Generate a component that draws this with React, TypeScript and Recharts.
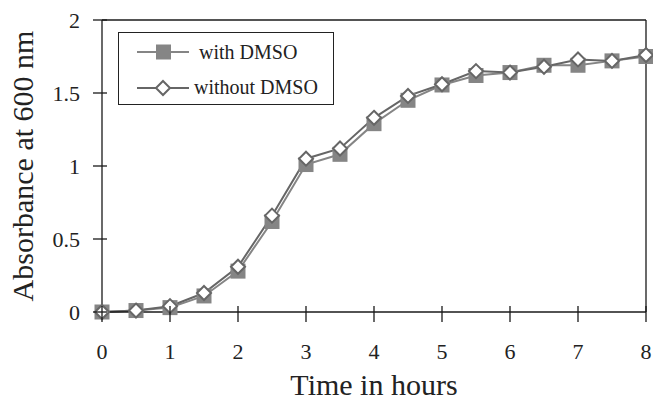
import React from 'react';
import { LineChart, Line, XAxis, YAxis, ReferenceLine, Legend } from 'recharts';

const hours = [0, 0.5, 1, 1.5, 2, 2.5, 3, 3.5, 4, 4.5, 5, 5.5, 6, 6.5, 7, 7.5, 8];
const withDMSO = [0, 0.01, 0.03, 0.11, 0.28, 0.62, 1.01, 1.08, 1.29, 1.45, 1.555, 1.62, 1.64, 1.69, 1.69, 1.72, 1.75];
const withoutDMSO = [0, 0.01, 0.04, 0.13, 0.31, 0.66, 1.05, 1.12, 1.33, 1.48, 1.56, 1.65, 1.64, 1.68, 1.73, 1.72, 1.76];
const xTicks = [0, 1, 2, 3, 4, 5, 6, 7, 8];
const yTicks = [0, 0.5, 1, 1.5, 2];
const seriesNames = ['with DMSO', 'without DMSO'];

const data = hours.map((h, i) => ({ t: h, a: withDMSO[i], b: withoutDMSO[i] }));

const FONT = '"Liberation Serif", "Times New Roman", serif';
const SQ_COLOR = '#858585';
const DI_COLOR = '#666666';
const AXIS = '#1a1a1a';
const TXT = '#222';

const SquareDot = (props: any) => {
  const { cx, cy, index } = props;
  if (cx == null || cy == null) return null;
  return <rect key={'s' + index} x={cx - 7.5} y={cy - 7.5} width={15} height={15} fill={SQ_COLOR} />;
};

const DiamondDot = (props: any) => {
  const { cx, cy, index } = props;
  if (cx == null || cy == null) return null;
  const r = 7;
  return (
    <path
      key={'d' + index}
      d={`M${cx},${cy - r}L${cx + r},${cy}L${cx},${cy + r}L${cx - r},${cy}Z`}
      fill="#fff"
      stroke={DI_COLOR}
      strokeWidth={2}
    />
  );
};

const XTick = (props: any) => {
  const { x, y, payload } = props;
  return (
    <g>
      <line x1={x} x2={x} y1={y - 8} y2={y + 8} stroke={AXIS} strokeWidth={1.3} />
      <text x={x} y={y + 45} textAnchor="middle" fontFamily={FONT} fontSize={22} fill={TXT}>
        {payload.value}
      </text>
    </g>
  );
};

const YTick = (props: any) => {
  const { x, y, payload } = props;
  return (
    <g>
      <line x1={x - 7} x2={x + 7} y1={y} y2={y} stroke={AXIS} strokeWidth={1.3} />
      <text x={x - 20} y={y + 7.5} textAnchor="end" fontFamily={FONT} fontSize={22} fill={TXT}>
        {payload.value}
      </text>
    </g>
  );
};

const LegendContent = () => (
  <div
    style={{
      width: 216,
      height: 73,
      border: '1px solid #222',
      boxSizing: 'border-box',
      background: '#fff',
      position: 'relative',
    }}
  >
    <svg width={214} height={71} style={{ position: 'absolute', left: 0, top: 0 }}>
      <line x1={18} x2={70} y1={19} y2={19} stroke={SQ_COLOR} strokeWidth={2} />
      <rect x={37} y={11.5} width={15} height={15} fill={SQ_COLOR} />
      <text x={80} y={26} fontFamily={FONT} fontSize={20} fill={TXT}>
        {seriesNames[0]}
      </text>
      <line x1={18} x2={70} y1={55} y2={55} stroke={DI_COLOR} strokeWidth={2} />
      <path d="M44,48L51,55L44,62L37,55Z" fill="#fff" stroke={DI_COLOR} strokeWidth={2} />
      <text x={75} y={61} fontFamily={FONT} fontSize={20} fill={TXT}>
        {seriesNames[1]}
      </text>
    </svg>
  </div>
);

const YLabel = (props: any) => {
  const { viewBox } = props;
  const cy = viewBox.y + viewBox.height / 2;
  const cx = 22;
  return (
    <text
      x={cx}
      y={cy}
      transform={`rotate(-90, ${cx}, ${cy})`}
      textAnchor="middle"
      dominantBaseline="central"
      fontFamily={FONT}
      fontSize={30}
      fill={TXT}
    >
      Absorbance at 600 nm
    </text>
  );
};

export default function App() {
  return (
    <div style={{ position: 'absolute', left: 0, top: 0, width: 653, height: 404, background: '#fff' }}>
      <LineChart width={653} height={404} data={data} margin={{ top: 20, right: 7, left: 0, bottom: 0 }}>
        <XAxis
          dataKey="t"
          type="number"
          domain={[0, 8]}
          ticks={xTicks}
          interval={0}
          height={92}
          tickSize={0}
          tickLine={false}
          axisLine={{ stroke: AXIS, strokeWidth: 1.3 }}
          tick={<XTick />}
          label={{
            value: 'Time in hours',
            position: 'insideBottom',
            offset: 9,
            style: { fontFamily: FONT, fontSize: 30, fill: TXT },
          }}
        />
        <YAxis
          type="number"
          domain={[0, 2]}
          ticks={yTicks}
          interval={0}
          width={102}
          tickSize={0}
          tickLine={false}
          axisLine={{ stroke: AXIS, strokeWidth: 1.3 }}
          tick={<YTick />}
          label={<YLabel />}
        />
        <ReferenceLine y={2} stroke={AXIS} strokeWidth={1.3} />
        <ReferenceLine x={8} stroke={AXIS} strokeWidth={1.3} />
        <Legend
          layout="horizontal"
          verticalAlign="middle"
          align="center"
          content={<LegendContent />}
          wrapperStyle={{ position: 'absolute', left: 118, top: 32, width: 216, height: 73 }}
        />
        <Line
          dataKey="a"
          name={seriesNames[0]}
          stroke={SQ_COLOR}
          strokeWidth={2}
          dot={<SquareDot />}
          isAnimationActive={false}
        />
        <Line
          dataKey="b"
          name={seriesNames[1]}
          stroke={DI_COLOR}
          strokeWidth={2}
          dot={<DiamondDot />}
          isAnimationActive={false}
        />
      </LineChart>
    </div>
  );
}
